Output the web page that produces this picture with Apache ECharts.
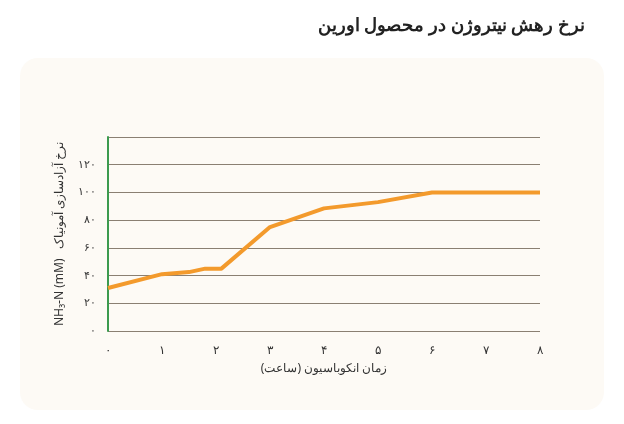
<!DOCTYPE html>
<html><head><meta charset="utf-8">
<script src="https://cdn.jsdelivr.net/npm/echarts@6/dist/echarts.min.js"></script>
<style>body{margin:0;background:#fff}#c{width:624px;height:424px}</style>
</head><body><div id="c"></div>
<script>
const title = 'نرخ رهش نیتروژن در محصول اورین';
const xName = 'زمان انکوباسیون (ساعت)';
const yName = 'NH₃-N (mM)   نرخ آزادسازی آمونیاک';
const xTickLabels = ['۰','۱','۲','۳','۴','۵','۶','۷','۸'];
const yTickLabels = {0:'۰',20:'۲۰',40:'۴۰',60:'۶۰',80:'۸۰',100:'۱۰۰',120:'۱۲۰'};
const hours = [0, 1, 1.5, 1.8, 2.1, 3, 4, 5, 6, 7, 8];
const ammonia = [31, 41, 42.5, 45, 45, 75, 88.5, 93, 100, 100, 100];
const chart = echarts.init(document.getElementById('c'));
chart.setOption({
  backgroundColor: '#fff',
  graphic: [{type:'rect', shape:{x:20,y:58,width:584,height:352,r:18}, style:{fill:'#fdfaf5'}, z:-10}],
  title: {text: title, right: 34, top: 12, textStyle:{fontFamily:'Noto Sans', fontSize:18, fontWeight:'bold', color:'#222'}},
  grid: {left:108, right:84, top:137, bottom:93},
  xAxis: {type:'value', min:0, max:8, interval:1,
    name: xName, nameLocation:'middle', nameGap:32,
    nameTextStyle:{fontFamily:'Noto Sans', fontSize:12, color:'#333'},
    axisLine:{show:false}, axisTick:{show:false}, splitLine:{show:false},
    axisLabel:{formatter:v=>xTickLabels[v], color:'#333', fontSize:12, margin:14}},
  yAxis: {type:'value', min:0, max:140, interval:20,
    name: yName, nameLocation:'middle', nameGap:42, nameRotate:90,
    nameTextStyle:{fontFamily:'Noto Sans', fontSize:12, color:'#333'},
    axisLine:{show:true, lineStyle:{color:'#3c9a4e', width:2}}, axisTick:{show:false},
    splitLine:{lineStyle:{color:'#8a7f72', width:1}},
    axisLabel:{formatter:v=>yTickLabels[v]||'', color:'#333', fontSize:11, margin:12}},
  series: [{type:'line', data: hours.map((h,i)=>[h, ammonia[i]]), symbol:'none',
    lineStyle:{color:'#f39a2c', width:4}, z:5}]
});
</script></body></html>
